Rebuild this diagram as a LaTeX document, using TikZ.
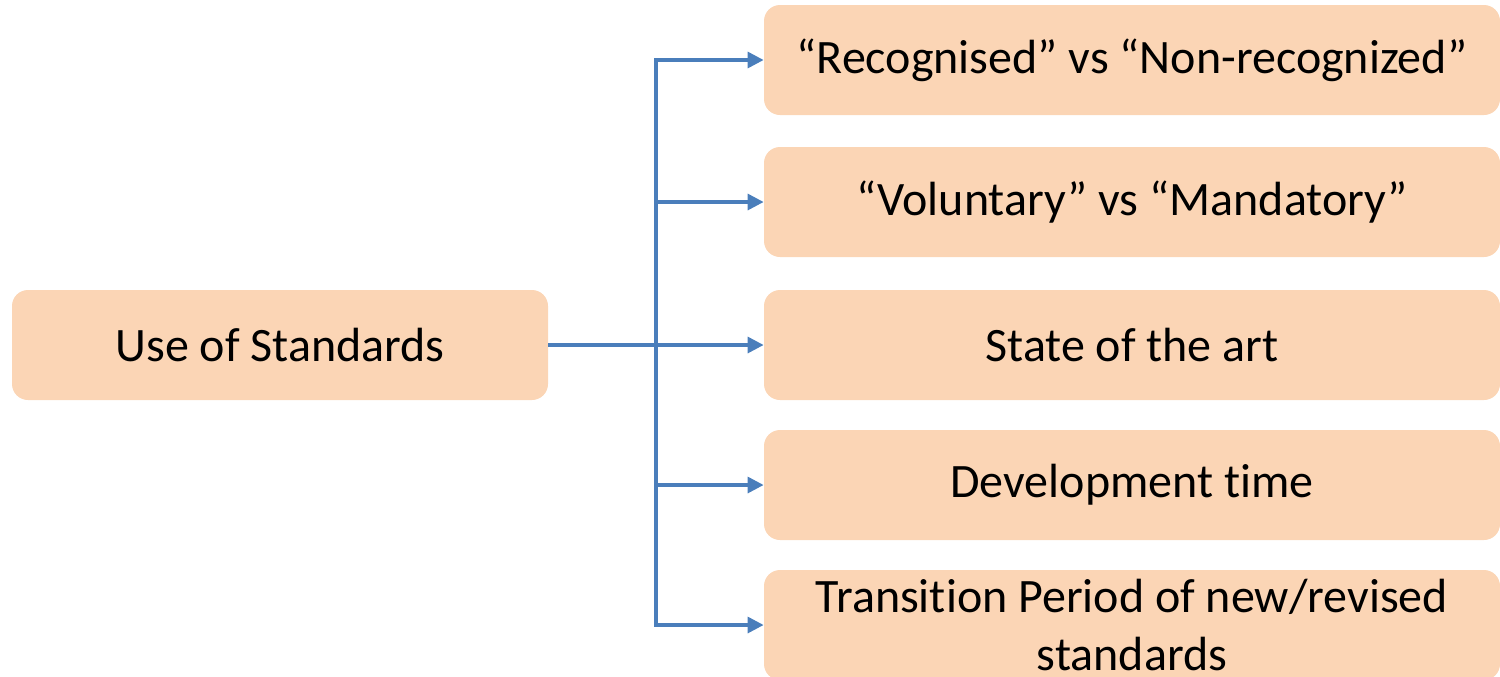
\documentclass[tikz,border=0pt]{standalone}
\usepackage{fontspec}
\setmainfont{Carlito}[Ligatures=NoCommon]
\usetikzlibrary{arrows.meta}
\definecolor{boxfill}{HTML}{FBD5B5}
\definecolor{linkblue}{HTML}{4A7EBB}
\tikzset{
  box/.style={draw=none, fill=boxfill, rounded corners=8pt, align=center,
    font=\fontsize{24pt}{29pt}\selectfont, inner sep=0pt},
  leftbox/.style={box, minimum width=268pt, minimum height=55pt},
  rightbox/.style={box, minimum width=368pt, minimum height=55pt},
  link/.style={draw=linkblue, line width=1.6pt, -{Triangle[length=8pt,width=8pt]}}
}
\begin{document}
\begin{tikzpicture}[x=0.5pt,y=-0.5pt]
\useasboundingbox (0,0) rectangle (1500,676);
\clip (0,0) rectangle (1500,676);
\node[leftbox] (L) at (280,345) {Use of Standards};
\node[rightbox] (R1) at (1132,60) {“Recognised” vs “Non-recognized”};
\node[rightbox] (R2) at (1132,202) {“Voluntary” vs “Mandatory”};
\node[rightbox] (R3) at (1132,345) {State of the art};
\node[rightbox] (R4) at (1132,485) {Development time};
\node[rightbox] (R5) at (1132,625) {Transition Period of new/revised\\standards};
\coordinate (T) at (656,345);
\draw[draw=linkblue, line width=1.6pt] (L.east) -- (T);
\foreach \r in {R1,R2,R3,R4,R5} {
  \draw[link] (T) |- (\r.west);
}
\end{tikzpicture}
\end{document}
